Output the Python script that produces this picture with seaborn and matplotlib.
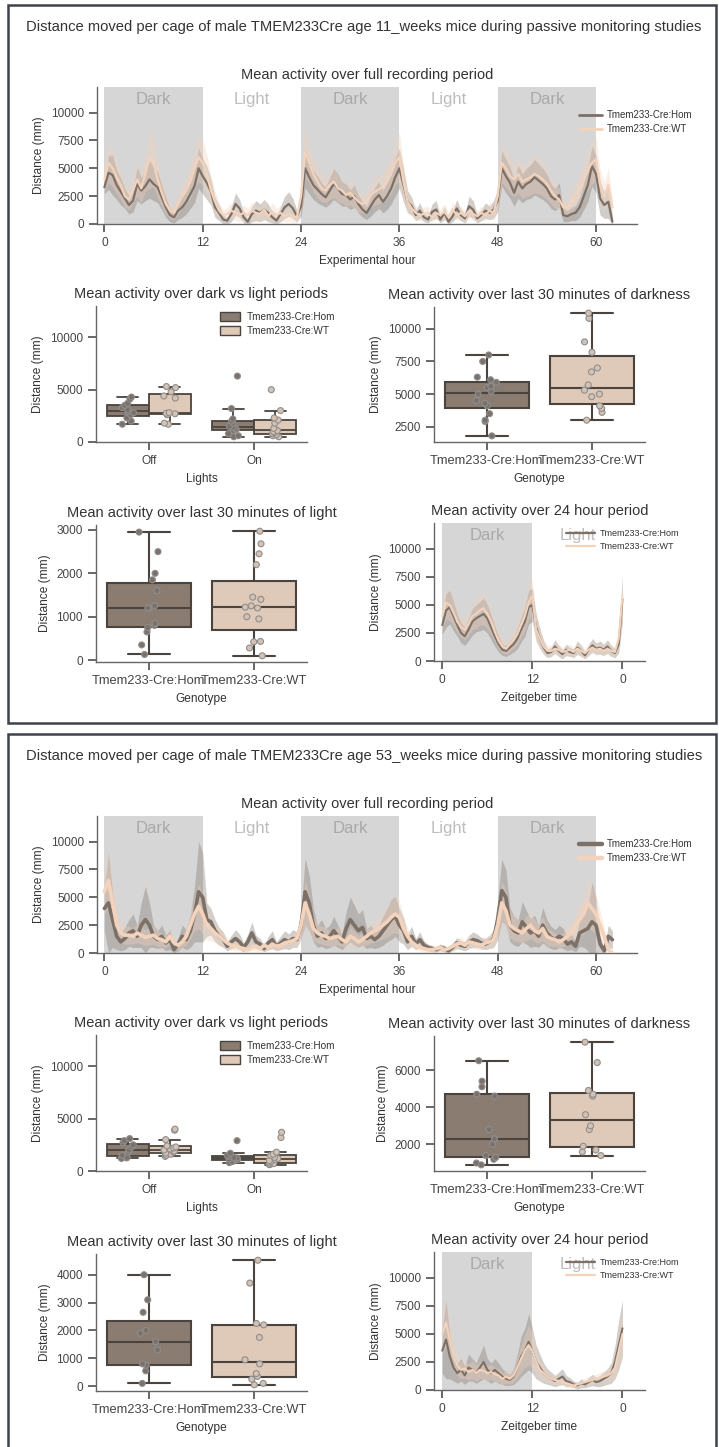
import numpy as np
import pandas as pd
import matplotlib
matplotlib.use("Agg")
import matplotlib.pyplot as plt
from matplotlib.lines import Line2D
from matplotlib.patches import Rectangle, Patch
import seaborn as sns

# ---------------------------------------------------------------- labels
HOM, WT = "Tmem233-Cre:Hom", "Tmem233-Cre:WT"
GENOTYPES = [HOM, WT]
LIGHTS = ["Off", "On"]
AGES = ["11_weeks", "53_weeks"]

# half-hour bins of the recording (experimental hour) and of the folded day (ZT)
HOURS_FULL = np.arange(0, 62.5, 0.5)
ZT_HOURS = np.arange(0, 24.5, 0.5)
ZT_TICKS = [0, 12, 24]
ZT_TICKLABELS = ["0", "12", "0"]

# ---------------------------------------------------------------- 11 weeks
# mean distance per half hour, full recording
W11_FULL_HOM = [
    3300, 4600, 4400, 3500, 2900, 2300, 1700, 2100, 3600, 3000, 3400, 4000, 3600,
    3300, 2400, 1500, 800, 600, 1200, 1500, 2000, 2700, 3400, 5000, 4300,
    3700, 2900, 1500, 1000, 400, 300, 900, 1800, 1400, 600, 200, 900,
    1200, 1000, 1300, 1000, 600, 300, 900, 1500, 1800, 1400, 700, 1600,
    5000, 4200, 3500, 3100, 2700, 2400, 3000, 3600, 3200, 2700, 2600, 2200,
    2500, 1800, 1300, 1000, 1600, 2200, 2600, 2000, 2500, 3200, 4200, 5000,
    3500, 2000, 1600, 800, 1200, 600, 400, 1100, 1300, 400, 1000, 200,
    700, 1400, 800, 500, 1600, 1300, 500, 800, 1200, 1000, 1300, 2100,
    5000, 4300, 3700, 2800, 3800, 3200, 3600, 3800, 4200, 3900, 3600, 3200,
    2500, 2200, 2600, 800, 700, 900, 1000, 1500, 2500, 3500, 5200, 4500,
    2300, 1700, 2000, 200]
W11_FULL_WT = [
    4000, 5500, 5000, 4200, 3500, 2500, 2200, 3000, 4000, 3200, 4500, 6000, 5500,
    4000, 2800, 1800, 1200, 1000, 1800, 2500, 3000, 3800, 5000, 6000, 5500,
    4500, 3000, 2000, 1200, 800, 900, 1200, 1000, 800, 1000, 800, 1200,
    1000, 900, 1300, 700, 1100, 800, 1000, 700, 900, 700, 600, 2500,
    6500, 5500, 4500, 3800, 3200, 3000, 3500, 3800, 3200, 3000, 2600, 2800,
    2400, 2000, 1800, 2100, 2600, 2900, 3100, 3400, 3800, 4500, 5500, 6000,
    3800, 2000, 1400, 1000, 800, 900, 1000, 600, 1000, 800, 1100, 600,
    1300, 800, 1000, 700, 1200, 900, 700, 1000, 800, 1200, 1000, 2500,
    5500, 5000, 4300, 4000, 4500, 3800, 4000, 4200, 4500, 4300, 4000, 3600,
    3000, 2500, 2200, 1500, 1400, 2000, 2600, 3200, 4000, 4800, 5500, 5800,
    3500, 2500, 3500, 1500]
# 95% CI half-widths
W11_FULL_HOM_CI = [
    600, 1500, 1800, 1300, 1200, 900, 800, 1000, 1500, 1200, 1300, 1700, 1500,
    1400, 1100, 900, 600, 500, 800, 900, 1100, 1300, 1500, 1800, 1600,
    1500, 1200, 900, 700, 400, 300, 700, 1000, 800, 500, 300, 700,
    900, 800, 900, 800, 500, 300, 700, 1000, 1100, 900, 500, 900,
    1800, 1500, 1300, 1200, 1000, 900, 1200, 1400, 1300, 1100, 1000, 900,
    1000, 800, 700, 600, 900, 1100, 1200, 1000, 1200, 1400, 1700, 1800,
    1500, 1000, 800, 500, 700, 400, 300, 700, 800, 300, 600, 200,
    500, 800, 500, 400, 900, 800, 400, 500, 700, 600, 800, 1000,
    1600, 1500, 1400, 1200, 1500, 1300, 1400, 1500, 1600, 1500, 1400, 1300,
    1100, 1000, 1100, 600, 500, 600, 700, 900, 1200, 1500, 1800, 1700,
    1500, 1200, 1500, 300]
W11_FULL_WT_CI = [
    1000, 1800, 1700, 1500, 1300, 1000, 900, 1100, 1500, 1300, 1600, 2800, 2200,
    1600, 1200, 900, 700, 600, 900, 1100, 1200, 1500, 1800, 2200, 2000,
    1800, 1300, 1000, 700, 500, 600, 700, 700, 600, 700, 600, 800,
    700, 600, 900, 500, 800, 600, 700, 500, 700, 600, 500, 1200,
    2200, 1800, 1600, 1400, 1200, 1100, 1300, 1400, 1200, 1100, 1000, 1100,
    1000, 900, 800, 900, 1100, 1200, 1300, 1400, 1500, 1700, 2000, 2200,
    1600, 1000, 700, 600, 500, 600, 600, 400, 600, 500, 700, 400,
    700, 500, 600, 500, 700, 600, 500, 600, 500, 700, 600, 1200,
    1800, 1700, 1600, 1500, 1700, 1500, 1500, 1600, 1700, 1600, 1500, 1400,
    1200, 1100, 1000, 700, 700, 900, 1100, 1300, 1500, 1700, 1900, 2000,
    1500, 1200, 1500, 800]
# mean distance per half hour over one day
W11_DAY_HOM = [
    3200, 4500, 4800, 4000, 3200, 2500, 2200, 2800, 3500, 3800, 4000, 4200, 3800,
    3000, 2200, 1500, 1000, 900, 1200, 1500, 2000, 2800, 3500, 4800, 5000,
    3000, 2000, 1200, 700, 800, 1300, 900, 600, 1000, 800, 700, 1200,
    900, 500, 1000, 1400, 1100, 1200, 1000, 1300, 900, 700, 1500, 5500]
W11_DAY_WT = [
    4000, 5200, 5000, 4300, 3500, 3000, 2800, 3300, 4000, 4200, 4500, 4700, 4200,
    3500, 2600, 1800, 1300, 1100, 1500, 1900, 2400, 3200, 4000, 5200, 5800,
    2800, 2000, 1300, 900, 900, 1100, 1000, 800, 900, 1000, 800, 1100,
    900, 700, 1000, 1200, 1000, 1100, 900, 1100, 900, 800, 2000, 5800]
W11_DAY_HOM_CI = [
    800, 1500, 1500, 1300, 1000, 900, 800, 1000, 1200, 1200, 1300, 1400, 1300,
    1100, 900, 700, 500, 500, 600, 700, 900, 1100, 1300, 1500, 1500,
    1200, 900, 600, 400, 400, 600, 500, 400, 500, 400, 400, 600,
    500, 300, 500, 600, 500, 600, 500, 600, 500, 400, 800, 2000]
W11_DAY_WT_CI = [
    1000, 1500, 1400, 1200, 1000, 900, 900, 1000, 1200, 1300, 1300, 1500, 1300,
    1100, 900, 700, 600, 500, 700, 800, 900, 1100, 1300, 1500, 1500,
    1200, 900, 600, 500, 500, 500, 500, 400, 500, 500, 400, 500,
    500, 400, 500, 500, 500, 500, 400, 500, 500, 400, 900, 2200]
# per-cage means
W11_OFF_HOM = [1700, 2000, 2300, 2600, 2800, 2900, 3100, 3300, 3500, 3700, 4100, 4300]
W11_OFF_WT = [1700, 1800, 2600, 2700, 2750, 2800, 4200, 4400, 4800, 5200, 5300]
W11_ON_HOM = [500, 600, 800, 1100, 1200, 1300, 1400, 1500, 1800, 2000, 2200, 3200, 6300]
W11_ON_WT = [500, 600, 700, 800, 900, 1000, 1100, 1300, 1800, 2100, 2300, 3000, 5000]
W11_LASTDARK_HOM = [1800, 2900, 3000, 3500, 4100, 4300, 4500, 5000, 5200, 5500, 5600,
                    5900, 6100, 6300, 7500, 8000]
W11_LASTDARK_WT = [3000, 3600, 3900, 4100, 4800, 5000, 5300, 5700, 6700, 7000, 8200,
                   9000, 10800, 11200]
W11_LASTLIGHT_HOM = [130, 350, 650, 750, 800, 850, 1200, 1200, 1250, 1600, 1850, 2000,
                     2500, 2950]
W11_LASTLIGHT_WT = [100, 280, 420, 430, 950, 1000, 1200, 1220, 1250, 1400, 1450, 2200,
                    2450, 2680, 2970]

# ---------------------------------------------------------------- 53 weeks
W53_FULL_HOM = [
    4000, 4500, 3000, 1500, 1000, 1300, 1800, 2000, 1500, 2500, 3000, 2500, 1500,
    1200, 1500, 900, 1200, 300, 800, 1500, 1200, 2000, 3500, 5500, 5000,
    3000, 2800, 2000, 1500, 1200, 600, 1000, 1300, 1000, 500, 1000, 1800,
    1000, 800, 400, 900, 1200, 600, 900, 1200, 1000, 1300, 1200, 2500,
    5500, 4500, 2500, 1500, 1800, 1300, 1500, 2000, 1500, 1000, 2200, 3000,
    2500, 2000, 2300, 1300, 1500, 1200, 1500, 2000, 2500, 3000, 3300, 2500,
    2000, 1000, 1500, 800, 1200, 700, 500, 400, 300, 500, 400, 200,
    500, 900, 700, 600, 1000, 1200, 1100, 900, 800, 1000, 1300, 3000,
    5600, 5000, 2500, 2000, 1800, 2800, 2300, 1800, 2000, 1500, 2500, 1800,
    1400, 1200, 1500, 1300, 800, 1000, 600, 1800, 2000, 2200, 2800, 2500,
    800, 200, 1500, 1200]
W53_FULL_WT = [
    5500, 6500, 4500, 2500, 1800, 1600, 1600, 1500, 1800, 1600, 1400, 1500, 1600,
    1300, 1200, 1000, 1500, 900, 700, 1000, 1500, 2500, 3500, 4200, 3500,
    2500, 2200, 1800, 1500, 1200, 900, 700, 600, 500, 400, 300, 500,
    600, 400, 700, 500, 800, 600, 700, 900, 1000, 1100, 1300, 2500,
    4500, 3500, 2200, 1800, 1600, 1500, 1300, 1400, 1500, 1200, 1000, 1500,
    1300, 1000, 1200, 1500, 1800, 2000, 2200, 2500, 2800, 3200, 3500, 3200,
    2200, 1500, 1000, 700, 500, 400, 300, 300, 400, 500, 300, 400,
    600, 800, 900, 700, 1000, 900, 800, 700, 900, 1000, 1200, 2500,
    4500, 3800, 2500, 2200, 2000, 1800, 2200, 2500, 2000, 1800, 2200, 1500,
    1300, 1200, 1000, 1200, 1500, 1800, 2500, 3000, 3500, 4500, 4000, 3500,
    2500, 1500, 300, 0]
W53_FULL_HOM_CI = [
    2000, 4500, 2500, 1200, 800, 1000, 1200, 1500, 1000, 2000, 3000, 2000, 1000,
    800, 1000, 700, 900, 300, 600, 1000, 900, 1500, 2500, 4500, 4000,
    1500, 1200, 1000, 800, 700, 400, 600, 800, 700, 400, 700, 1000,
    600, 500, 300, 600, 800, 400, 600, 800, 700, 800, 700, 1200,
    3000, 2500, 1500, 1000, 1200, 900, 1000, 1300, 1000, 700, 1500, 2000,
    1800, 1500, 1600, 900, 1000, 800, 1000, 1300, 1500, 1800, 1800, 1500,
    1200, 700, 900, 500, 700, 400, 300, 300, 200, 300, 300, 200,
    300, 500, 400, 400, 600, 700, 600, 500, 500, 600, 800, 1800,
    2800, 2500, 1500, 1300, 1200, 1800, 1500, 1300, 1400, 1000, 1600, 1200,
    1000, 900, 1000, 900, 600, 700, 500, 1200, 1500, 2000, 3500, 2500,
    700, 300, 1000, 800]
W53_FULL_WT_CI = [
    2000, 2500, 2000, 1200, 900, 800, 800, 700, 900, 800, 700, 800, 800,
    700, 600, 500, 700, 500, 400, 500, 800, 1200, 1500, 2000, 1800,
    1300, 1100, 900, 800, 600, 500, 400, 400, 300, 300, 200, 300,
    400, 300, 400, 300, 500, 400, 400, 500, 600, 600, 700, 1200,
    2000, 1600, 1100, 900, 800, 800, 700, 700, 800, 600, 500, 800,
    700, 600, 600, 800, 900, 1000, 1100, 1200, 1400, 1500, 1700, 1500,
    1100, 800, 500, 400, 300, 300, 200, 200, 300, 300, 200, 300,
    400, 500, 500, 400, 600, 500, 500, 400, 500, 600, 700, 1200,
    2000, 1800, 1200, 1100, 1000, 900, 1100, 1200, 1000, 900, 1100, 800,
    700, 600, 500, 600, 800, 900, 1200, 1500, 1800, 2200, 2000, 1800,
    1300, 800, 300, 200]
W53_DAY_HOM = [
    3500, 4500, 3000, 2000, 1500, 1800, 1300, 2000, 1800, 1500, 2000, 2500, 1800,
    1500, 1800, 1500, 1200, 1000, 900, 1200, 2000, 3000, 3500, 4300, 3500,
    2500, 2000, 1500, 1200, 1000, 800, 1000, 1200, 800, 700, 500, 400,
    600, 500, 700, 900, 700, 800, 1000, 1200, 1500, 2500, 4000, 5500]
W53_DAY_WT = [
    5000, 6000, 4500, 3000, 2200, 1800, 1900, 1600, 1800, 1500, 1800, 1700, 1500,
    1600, 1400, 1300, 1000, 1200, 1000, 1300, 2000, 2800, 3500, 4000, 3500,
    2500, 1800, 1500, 1200, 1000, 900, 800, 700, 600, 500, 400, 500,
    600, 700, 800, 900, 1000, 1100, 1200, 1300, 1500, 2000, 3500, 5000]
W53_DAY_HOM_CI = [
    2000, 3500, 2000, 1200, 900, 1000, 800, 1200, 1000, 900, 1200, 1500, 1000,
    900, 1000, 900, 700, 600, 500, 700, 1200, 1800, 2000, 2500, 2000,
    1500, 1200, 900, 700, 600, 500, 600, 700, 500, 400, 300, 300,
    400, 300, 400, 500, 400, 500, 600, 700, 900, 1500, 2200, 2500]
W53_DAY_WT_CI = [
    1800, 2000, 1800, 1200, 900, 800, 800, 700, 800, 700, 800, 700, 700,
    700, 600, 600, 500, 600, 500, 600, 900, 1200, 1500, 1800, 1500,
    1100, 800, 700, 500, 500, 400, 400, 300, 300, 200, 200, 200,
    300, 300, 400, 400, 400, 500, 500, 600, 700, 900, 1500, 2200]
W53_OFF_HOM = [1200, 1250, 1300, 1500, 1800, 2000, 2300, 2500, 2700, 2900, 3100]
W53_OFF_WT = [1400, 1500, 1600, 1700, 1800, 1900, 2000, 2100, 2200, 2300, 2400, 3000,
              3900, 4000]
W53_ON_HOM = [800, 900, 1050, 1100, 1150, 1200, 1250, 1300, 1400, 1500, 1700, 2900]
W53_ON_WT = [600, 650, 700, 750, 900, 1000, 1100, 1200, 1300, 1500, 1600, 1800, 3200,
             3700]
W53_LASTDARK_HOM = [900, 1000, 1200, 1300, 1400, 2000, 2300, 2800, 4600, 4700, 5100,
                    5400, 6500]
W53_LASTDARK_WT = [1400, 1600, 1700, 1900, 2800, 3000, 3600, 4600, 4700, 4900, 6400, 7500]
W53_LASTLIGHT_HOM = [100, 550, 750, 800, 1300, 1600, 1900, 2000, 2650, 3100, 4000]
W53_LASTLIGHT_WT = [50, 100, 250, 350, 450, 800, 950, 1750, 2200, 2250, 3700, 4520]

# ---------------------------------------------------------------- style
LINE_COLORS = {HOM: "#7d7067", WT: "#f3d3bc"}
BOX_COLORS = {HOM: "#8a7c71", WT: "#dfc9b8"}
DOT_COLORS = {HOM: "#7c716a", WT: "#d6c2b3"}
EDGE = "#4a433e"
SHADE = "#d6d6d6"
TEXT = "#333333"
FRAME = "#3e424a"

sns.set_theme(style="ticks")
plt.rcParams["font.family"] = ["Liberation Sans", "DejaVu Sans"]
plt.rcParams.update({
    "text.color": TEXT,
    "axes.labelcolor": TEXT,
    "axes.edgecolor": "#666666",
    "axes.linewidth": 1.0,
    "xtick.color": "#555555",
    "ytick.color": "#555555",
    "xtick.labelcolor": "#444444",
    "ytick.labelcolor": "#444444",
    "xtick.labelsize": 8.6,
    "ytick.labelsize": 8.5,
    "axes.labelsize": 8.6,
    "axes.titlesize": 10.5,
    "axes.titlecolor": TEXT,
})

W, H = 719, 1447
fig = plt.figure(figsize=(W / 100, H / 100), dpi=100)


def px_axes(left, top, right, bottom):
    return fig.add_axes([left / W, 1 - bottom / H, (right - left) / W, (bottom - top) / H])


def activity_plot(ax, hours, hom, wt, hom_ci, wt_ci, lw, xlim, xticks, xticklabels,
                  xlabel, title, legend_anchor, handle_lw, legend_size, handle_len):
    for start in np.arange(0, xlim[1], 24):
        end = min(start + 12, hours[-1])
        ax.axvspan(start, end, color=SHADE, lw=0, zorder=0)
    for centre in np.arange(6, xlim[1] - 3, 12):
        is_dark = int(centre // 12) % 2 == 0
        ax.text(centre, 11200, "Dark" if is_dark else "Light", ha="center", va="center",
                fontsize=12, color="#a9a9a9" if is_dark else "#bdbdbd", zorder=1)
    for g, mean, ci in ((HOM, hom, hom_ci), (WT, wt, wt_ci)):
        mean = np.asarray(mean, float)
        ci = np.asarray(ci, float)
        ax.fill_between(hours, mean - ci, mean + ci, color=LINE_COLORS[g], alpha=0.35,
                        lw=0, zorder=2)
    long = pd.DataFrame({
        "hour": np.concatenate([hours, hours]),
        "distance": np.concatenate([hom, wt]),
        "genotype": [HOM] * len(hours) + [WT] * len(hours),
    })
    sns.lineplot(data=long, x="hour", y="distance", hue="genotype", hue_order=GENOTYPES,
                 palette=LINE_COLORS, lw=lw, errorbar=None, legend=False, ax=ax, zorder=3)
    ax.set_xlim(*xlim)
    ax.set_ylim(0, 12300)
    ax.set_xticks(xticks)
    ax.set_xticklabels(xticklabels)
    ax.set_yticks([0, 2500, 5000, 7500, 10000])
    ax.set_xlabel(xlabel)
    ax.set_ylabel("Distance (mm)")
    ax.set_title(title)
    handles = [Line2D([], [], color=LINE_COLORS[g], lw=handle_lw) for g in GENOTYPES]
    ax.legend(handles, GENOTYPES, loc="upper left", bbox_to_anchor=legend_anchor,
              frameon=False, fontsize=legend_size, handlelength=handle_len,
              handletextpad=0.5, labelspacing=0.45, borderaxespad=0)
    sns.despine(ax=ax)


def lights_plot(ax, off_hom, off_wt, on_hom, on_wt):
    rows = []
    for light, g, vals in (("Off", HOM, off_hom), ("Off", WT, off_wt),
                           ("On", HOM, on_hom), ("On", WT, on_wt)):
        rows += [(light, g, v) for v in vals]
    df = pd.DataFrame(rows, columns=["Lights", "genotype", "distance"])
    sns.boxplot(data=df, x="Lights", y="distance", hue="genotype", order=LIGHTS,
                hue_order=GENOTYPES, palette=BOX_COLORS, saturation=1, linecolor=EDGE,
                linewidth=1.3, showfliers=False, legend=False, ax=ax)
    sns.stripplot(data=df, x="Lights", y="distance", hue="genotype", order=LIGHTS,
                  hue_order=GENOTYPES, palette=DOT_COLORS, dodge=True, jitter=0.12,
                  size=4.3, edgecolor="#8e8e8e", linewidth=0.8, legend=False, ax=ax)
    ax.set_ylim(0, 13000)
    ax.set_yticks([0, 5000, 10000])
    ax.set_xlabel("Lights")
    ax.set_ylabel("Distance (mm)")
    ax.set_title("Mean activity over dark vs light periods")
    handles = [Patch(facecolor=BOX_COLORS[g], edgecolor=EDGE, lw=1.0) for g in GENOTYPES]
    ax.legend(handles, GENOTYPES, loc="upper left", bbox_to_anchor=(0.57, 0.985),
              frameon=False, fontsize=7.2, handlelength=2.0, handleheight=1.0,
              handletextpad=0.6, labelspacing=0.35, borderaxespad=0)
    sns.despine(ax=ax)


def genotype_plot(ax, hom, wt, title):
    df = pd.DataFrame({"genotype": [HOM] * len(hom) + [WT] * len(wt),
                       "distance": list(hom) + list(wt)})
    sns.boxplot(data=df, x="genotype", y="distance", hue="genotype", order=GENOTYPES,
                hue_order=GENOTYPES, palette=BOX_COLORS, saturation=1, linecolor=EDGE,
                linewidth=1.5, showfliers=False, legend=False, ax=ax)
    sns.stripplot(data=df, x="genotype", y="distance", hue="genotype", order=GENOTYPES,
                  hue_order=GENOTYPES, palette=DOT_COLORS, jitter=0.1, size=4.3,
                  edgecolor="#8e8e8e", linewidth=0.8, legend=False, ax=ax)
    ax.tick_params(axis="x", labelsize=9.3)
    ax.set_xlabel("Genotype")
    ax.set_ylabel("Distance (mm)")
    ax.set_title(title)
    sns.despine(ax=ax)


panels = [
    dict(age=AGES[0], full=(W11_FULL_HOM, W11_FULL_WT, W11_FULL_HOM_CI, W11_FULL_WT_CI),
         day=(W11_DAY_HOM, W11_DAY_WT, W11_DAY_HOM_CI, W11_DAY_WT_CI),
         lights=(W11_OFF_HOM, W11_OFF_WT, W11_ON_HOM, W11_ON_WT),
         lastdark=(W11_LASTDARK_HOM, W11_LASTDARK_WT),
         lastlight=(W11_LASTLIGHT_HOM, W11_LASTLIGHT_WT), lw=1.6, handle_lw=2.0),
    dict(age=AGES[1], full=(W53_FULL_HOM, W53_FULL_WT, W53_FULL_HOM_CI, W53_FULL_WT_CI),
         day=(W53_DAY_HOM, W53_DAY_WT, W53_DAY_HOM_CI, W53_DAY_WT_CI),
         lights=(W53_OFF_HOM, W53_OFF_WT, W53_ON_HOM, W53_ON_WT),
         lastdark=(W53_LASTDARK_HOM, W53_LASTDARK_WT),
         lastlight=(W53_LASTLIGHT_HOM, W53_LASTLIGHT_WT), lw=2.6, handle_lw=3.2),
]

np.random.seed(7)
for i, p in enumerate(panels):
    dy = i * 729
    extra = 30 if i else 0
    fig.patches.append(Rectangle((8 / W, 1 - (723 + dy + extra) / H),
                                 (716 - 8) / W, (718 + extra) / H,
                                 transform=fig.transFigure, fill=False,
                                 edgecolor=FRAME, lw=1.8, zorder=10))
    fig.text(364 / W, 1 - (27 + dy) / H,
             f"Distance moved per cage of male TMEM233Cre age {p['age']} mice during "
             f"passive monitoring studies", ha="center", va="center", fontsize=10.6,
             color=TEXT)

    ax_full = px_axes(97, 87 + dy, 637, 224 + dy)
    activity_plot(ax_full, HOURS_FULL, *p["full"], lw=p["lw"], xlim=(-0.9, 65),
                  xticks=[0, 12, 24, 36, 48, 60],
                  xticklabels=["0", "12", "24", "36", "48", "60"],
                  xlabel="Experimental hour",
                  title="Mean activity over full recording period",
                  legend_anchor=(0.885, 0.86), handle_lw=p["handle_lw"],
                  legend_size=7.0, handle_len=2.4)

    ax_lights = px_axes(96, 306 + dy, 307, 442 + dy)
    lights_plot(ax_lights, *p["lights"])

    ax_dark = px_axes(434, 307 + dy, 645, 442 + dy)
    genotype_plot(ax_dark, *p["lastdark"], "Mean activity over last 30 minutes of darkness")

    ax_light = px_axes(96, 525 + dy, 307, 662 + dy)
    genotype_plot(ax_light, *p["lastlight"], "Mean activity over last 30 minutes of light")

    ax_day = px_axes(434, 523 + dy, 645, 661 + dy)
    activity_plot(ax_day, ZT_HOURS, *p["day"], lw=1.5, xlim=(-1.1, 27.0),
                  xticks=ZT_TICKS, xticklabels=ZT_TICKLABELS, xlabel="Zeitgeber time",
                  title="Mean activity over 24 hour period", legend_anchor=(0.61, 0.985),
                  handle_lw=1.6, legend_size=6.5, handle_len=3.2)

fig.savefig("out.png", dpi=100)
